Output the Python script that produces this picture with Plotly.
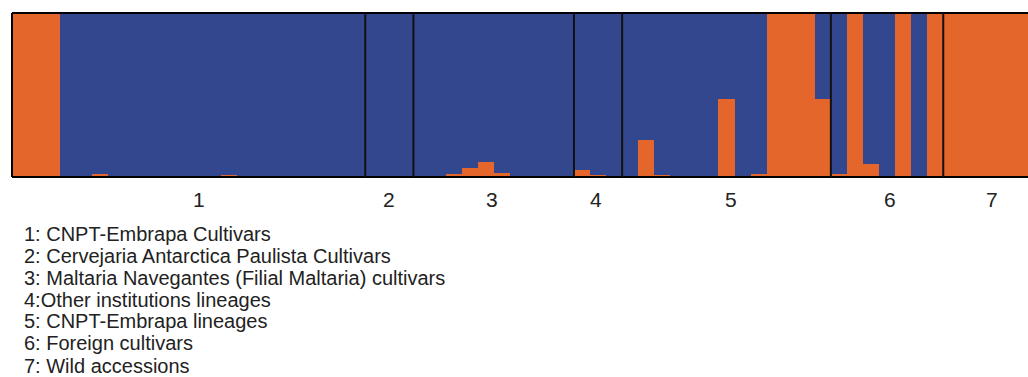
import plotly.graph_objects as go

# ---- data ----
group_labels = ["1", "2", "3", "4", "5", "6", "7"]
group_sizes = [22, 3, 10, 3, 13, 7, 6]
legend_lines = [
    "1: CNPT-Embrapa Cultivars",
    "2: Cervejaria Antarctica Paulista Cultivars",
    "3: Maltaria Navegantes (Filial Maltaria) cultivars",
    "4:Other institutions lineages",
    "5: CNPT-Embrapa lineages",
    "6: Foreign cultivars",
    "7: Wild accessions",
]
# membership coefficient of the orange cluster for each accession (blue = 1 - orange)
g1_orange = [1, 1, 1, 0, 0, 0.02, 0, 0, 0.005, 0, 0.005, 0, 0, 0.01, 0, 0, 0.005, 0, 0, 0, 0, 0]
g2_orange = [0, 0, 0]
g3_orange = [0, 0, 0.02, 0.055, 0.09, 0.025, 0, 0, 0, 0]
g4_orange = [0.045, 0.01, 0.005]
g5_orange = [0, 0.225, 0.01, 0, 0, 0.005, 0.475, 0, 0.02, 1, 1, 1, 0.475]
g6_orange = [0.02, 1, 0.08, 0, 1, 0, 1]
g7_orange = [1, 1, 1, 1, 1, 1]

orange = g1_orange + g2_orange + g3_orange + g4_orange + g5_orange + g6_orange + g7_orange
blue = [1 - v for v in orange]
idx = list(range(len(orange)))

ORANGE = "#E4662A"
BLUE = "#33478F"

# ---- geometry ----
W, H = 1028, 377
ML, MR, MT = 12, 0, 13
plot_h = 164
MB = H - MT - plot_h
plot_w = W - ML - MR
bar_px = 16.056
x_max = -0.5 + plot_w / bar_px


def py_to_paper(py):
    return (MT + plot_h - py) / plot_h


def px_to_paper(px):
    return (px - ML) / plot_w


fig = go.Figure()
fig.add_trace(go.Bar(x=idx, y=orange, marker=dict(color=ORANGE, line=dict(width=0)),
                     width=1, hoverinfo="skip"))
fig.add_trace(go.Bar(x=idx, y=blue, marker=dict(color=BLUE, line=dict(width=0)),
                     width=1, hoverinfo="skip"))

shapes = []
for (x0, x1, y0, y1) in [(0, 1, 1, 1), (0, 1, 0, 0), (0, 0, 0, 1)]:
    shapes.append(dict(type="line", xref="paper", yref="paper", x0=x0, x1=x1, y0=y0, y1=y1,
                       line=dict(color="black", width=2)))

annotations = []
start = 0
label_shift = [10, 0, -2, -2, 5, 3, 1]
for gi, (lab, n) in enumerate(zip(group_labels, group_sizes)):
    end = start + n
    if gi < len(group_sizes) - 1:
        shapes.append(dict(type="line", xref="x", yref="paper", x0=end - 0.5, x1=end - 0.5,
                           y0=0, y1=1, line=dict(color="#111111", width=2)))
    center = (start + end - 1) / 2
    annotations.append(dict(x=center, y=py_to_paper(200), xref="x", yref="paper",
                            text=lab, showarrow=False, xanchor="center", yanchor="middle",
                            xshift=label_shift[gi],
                            font=dict(family="Liberation Sans, Arial", size=21, color="#222222")))
    start = end

legend_y_px = [234, 256, 278, 299.5, 321, 343, 366]
for txt, py in zip(legend_lines, legend_y_px):
    annotations.append(dict(x=px_to_paper(22), y=py_to_paper(py),
                            xref="paper", yref="paper", text=txt, showarrow=False,
                            xanchor="left", yanchor="middle",
                            font=dict(family="Liberation Sans, Arial", size=20, color="#222222")))

fig.update_layout(
    width=W, height=H,
    margin=dict(l=ML, r=MR, t=MT, b=MB, pad=0),
    barmode="stack", bargap=0,
    showlegend=False,
    plot_bgcolor="white", paper_bgcolor="white",
    xaxis=dict(range=[-0.5, x_max], visible=False, fixedrange=True),
    yaxis=dict(range=[0, 1], visible=False, fixedrange=True),
    shapes=shapes, annotations=annotations,
)

fig.write_html(
    "out.html",
    config={"displayModeBar": False},
    post_script="document.body.style.margin='0px';"
                "document.documentElement.style.overflow='hidden';"
                "document.body.style.overflow='hidden';",
)
